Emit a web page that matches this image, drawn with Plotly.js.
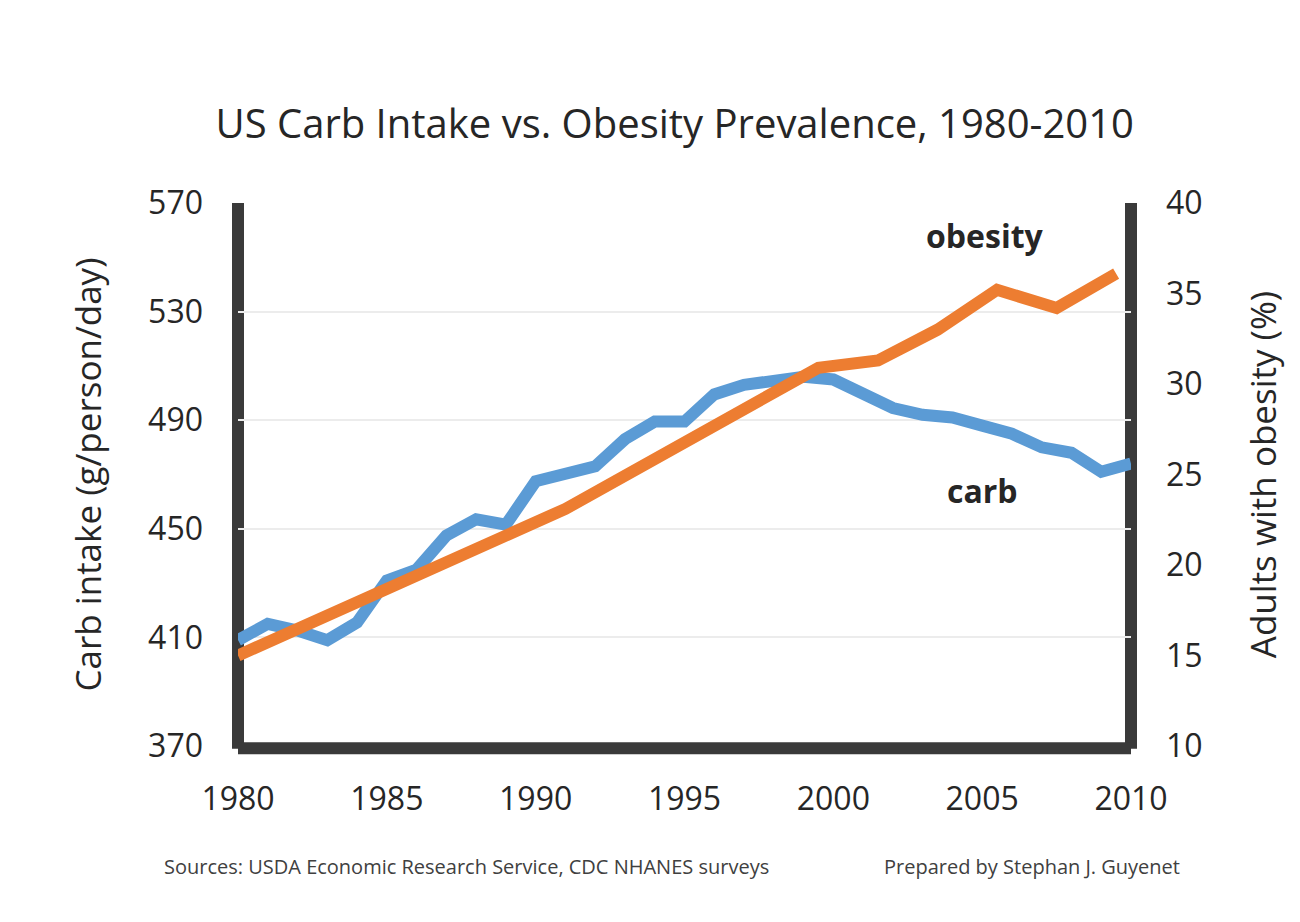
<!DOCTYPE html>
<html>
<head>
<meta charset="utf-8">
<script src="https://cdn.plot.ly/plotly-3.0.1.min.js"></script>
<style>
html,body{margin:0;padding:0;background:#fff;}
#chart{width:1300px;height:922px;}
</style>
</head>
<body>
<div id="chart"></div>
<script>
// ---- data ----
var carbYears = [1980,1981,1982,1983,1984,1985,1986,1987,1988,1989,1990,1991,1992,1993,1994,1995,1996,1997,1998,1999,2000,2001,2002,2003,2004,2005,2006,2007,2008,2009,2010];
var carbValues = [409,415,412.5,409,415.5,431,435,447.5,453.5,451.5,467.5,470,473,483,489.5,489.5,499.5,503,504,506,505,499.5,494.5,492,491,488,485,480,478,471,474];
var obesityYears = [1980,1991,1999.5,2001.5,2003.5,2005.5,2007.5,2009.5];
var obesityValues = [15.0,23.1,30.9,31.3,33.0,35.2,34.2,36.1];
var xTicks = [1980,1985,1990,1995,2000,2005,2010];
var leftTicks = [370,410,450,490,530,570];
var rightTicks = [10,15,20,25,30,35,40];

var FONT = "'Open Sans', 'Noto Sans', sans-serif";
var TXT = '#262626';

var traces = [
  {x: carbYears, y: carbValues, type:'scatter', mode:'lines', name:'carb',
   line:{color:'#5b9bd5', width:12}, yaxis:'y', hoverinfo:'x+y'},
  {x: obesityYears, y: obesityValues, type:'scatter', mode:'lines', name:'obesity',
   line:{color:'#ed7d31', width:12, cap:'round'}, yaxis:'y2', hoverinfo:'x+y'}
];

var layout = {
  width:1300, height:922,
  paper_bgcolor:'#fff', plot_bgcolor:'#fff',
  margin:{l:238, r:169, t:203, b:176, pad:0},
  showlegend:false,
  font:{family:FONT, color:TXT},
  title:{text:'US Carb Intake vs. Obesity Prevalence, 1980-2010',
         font:{family:FONT, size:40, color:TXT}, x:0.519, xanchor:'center', y:0.866, yanchor:'middle'},
  xaxis:{range:[1980,2010], tickvals:xTicks, ticktext:xTicks.map(String),
         showgrid:false, zeroline:false, showline:false, ticks:'',
         ticklabelstandoff:31, tickfont:{family:FONT, size:32, color:TXT}, fixedrange:true},
  yaxis:{range:[370,570], tickvals:leftTicks, ticktext:leftTicks.map(String),
         showgrid:true, gridcolor:'#ececec', gridwidth:2, zeroline:false, showline:false, ticks:'',
         ticklabelstandoff:34, tickfont:{family:FONT, size:32, color:TXT},
         title:{text:'Carb intake (g/person/day)', font:{family:FONT, size:35, color:TXT}, standoff:35}},
  yaxis2:{range:[10,40], tickvals:rightTicks, ticktext:rightTicks.map(String),
          overlaying:'y', side:'right', showgrid:false, zeroline:false, showline:false, ticks:'',
          ticklabelstandoff:34, tickfont:{family:FONT, size:32, color:TXT},
          title:{text:'Adults with obesity (%)', font:{family:FONT, size:35, color:TXT}, standoff:49}},
  shapes:[
    {type:'line', xref:'paper', yref:'paper', x0:0, x1:0, y0:-0.005, y1:1, line:{color:'#3a3a3a', width:12}, layer:'below'},
    {type:'line', xref:'paper', yref:'paper', x0:1, x1:1, y0:-0.005, y1:1, line:{color:'#3a3a3a', width:12}, layer:'below'},
    {type:'line', xref:'paper', yref:'paper', x0:0, x1:1, y0:-0.004, y1:-0.004, line:{color:'#3a3a3a', width:12}, layer:'below'}
  ],
  annotations:[
    {text:'<b>obesity</b>', x:2005.1, y:38.2, xref:'x', yref:'y2', showarrow:false,
     font:{family:FONT, size:32, color:TXT}},
    {text:'<b>carb</b>', x:2005.0, y:24.1, xref:'x', yref:'y2', showarrow:false,
     font:{family:FONT, size:32, color:TXT}},
    {text:'Sources: USDA Economic Research Service, CDC NHANES surveys', xref:'paper', yref:'paper',
     x:-0.085, y:-0.222, xanchor:'left', yanchor:'middle', showarrow:false,
     font:{family:FONT, size:20, color:'#404040'}},
    {text:'Prepared by Stephan J. Guyenet', xref:'paper', yref:'paper',
     x:1.057, y:-0.222, xanchor:'right', yanchor:'middle', showarrow:false,
     font:{family:FONT, size:20, color:'#404040'}}
  ]
};

Plotly.newPlot('chart', traces, layout, {displayModeBar:false, staticPlot:true});
</script>
</body>
</html>
